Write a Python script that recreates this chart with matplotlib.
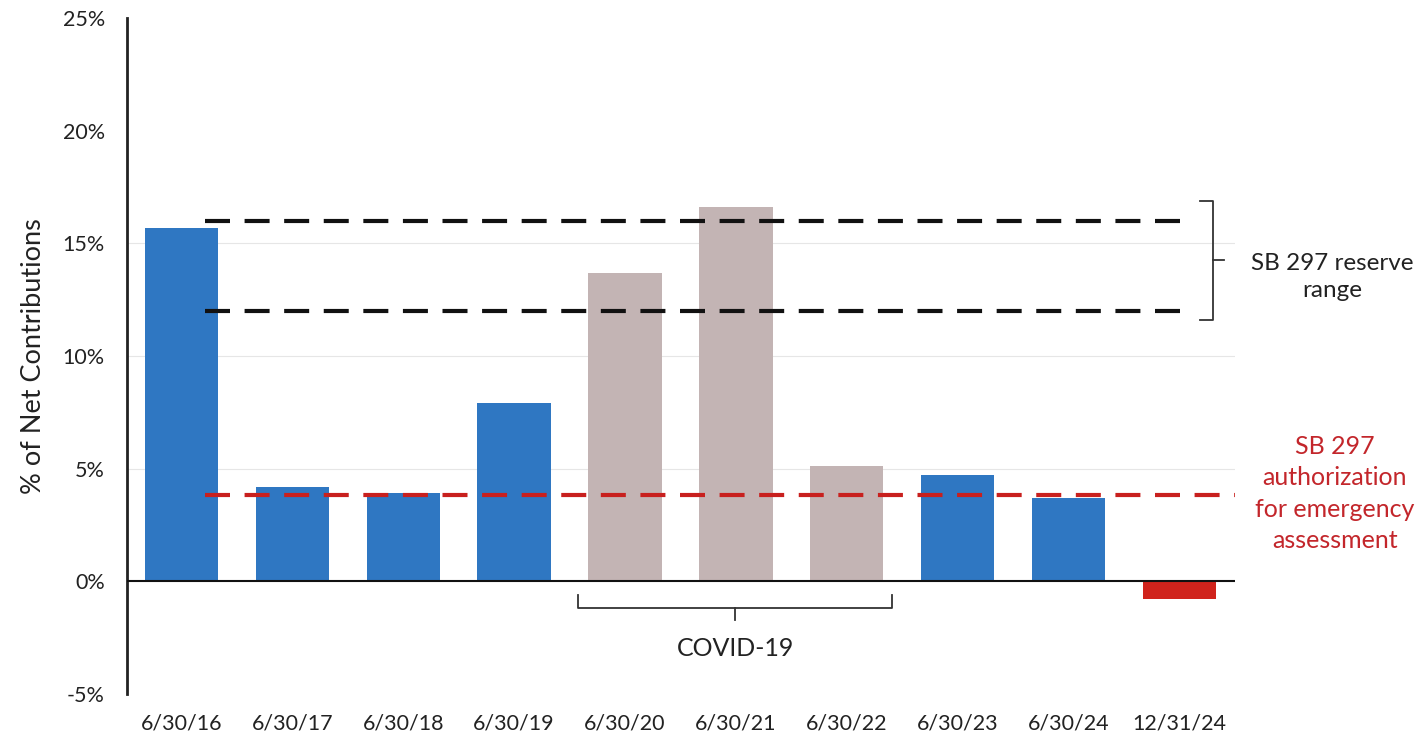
import matplotlib
matplotlib.use("Agg")
import matplotlib.pyplot as plt
from matplotlib.ticker import FuncFormatter

categories = ["6/30/16", "6/30/17", "6/30/18", "6/30/19", "6/30/20",
              "6/30/21", "6/30/22", "6/30/23", "6/30/24", "12/31/24"]
values = [15.7, 4.2, 3.9, 7.9, 13.7, 16.6, 5.1, 4.7, 3.7, -0.8]
bar_colors = ["#2F77C2"] * 4 + ["#C3B4B4"] * 3 + ["#2F77C2"] * 2 + ["#D0231C"]
reserve_low, reserve_high = 12.0, 16.0
emergency_level = 3.85
y_ticks = [-5, 0, 5, 10, 15, 20, 25]

plt.rcParams['font.family'] = ['Lato', 'DejaVu Sans']

fig = plt.figure(figsize=(14.21, 7.41), dpi=100)
ax = fig.add_axes([127/1421, 1-694/741, (1235-127)/1421, (694-18)/741])

x = list(range(len(categories)))
ax.bar(x, values, width=0.66, color=bar_colors, zorder=3)

ax.set_xlim(-0.49, 9.5)
ax.set_ylim(-5, 25)
ax.set_yticks(y_ticks)
ax.yaxis.set_major_formatter(FuncFormatter(lambda v, p: f"{int(v)}%"))
ax.set_xticks(x)
ax.set_xticklabels(categories)
ax.tick_params(axis='both', length=0, labelsize=15.5, colors="#222222")
ax.tick_params(axis='y', pad=16)
ax.tick_params(axis='x', pad=14)

for g in [5, 10, 15]:
    ax.axhline(g, color="#E6E6E6", lw=0.8, zorder=1)
ax.axhline(0, color="#111111", lw=1.5, zorder=4)

for s in ["top", "right", "bottom"]:
    ax.spines[s].set_visible(False)
ax.spines["left"].set_color("#222222")
ax.spines["left"].set_linewidth(2)

ax.set_ylabel("% of Net Contributions", fontsize=19.5, color="#222222", labelpad=12)

# reserve range lines
for lvl in [reserve_low, reserve_high]:
    ax.plot([0.21, 9.02], [lvl, lvl], color="#111111", lw=3,
            dashes=(6, 3.5), zorder=5)
ax.plot([0.21, 9.5], [emergency_level, emergency_level], color="#C8201E", lw=3,
        dashes=(6, 3.5), zorder=5)

# bracket for reserve range
bx = 9.30
ax.plot([bx - 0.12, bx, bx, bx - 0.12], [16.9, 16.9, 11.6, 11.6],
        color="#333333", lw=1.3, clip_on=False)
ax.plot([bx, bx + 0.1], [14.25, 14.25], color="#333333", lw=1.3, clip_on=False)
ax.text(10.38, 13.5, "SB 297 reserve\nrange", ha="center", va="center",
        fontsize=17.5, color="#222222", linespacing=1.35, clip_on=False)
ax.text(10.4, 3.9, "SB 297\nauthorization\nfor emergency\nassessment",
        ha="center", va="center", fontsize=18, color="#C3262B",
        linespacing=1.45, clip_on=False)

# COVID bracket
cl, cr = 3.58, 6.41
cm = (cl + cr) / 2
ax.plot([cl, cl, cr, cr], [-0.6, -1.2, -1.2, -0.6], color="#333333", lw=1.3)
ax.plot([cm, cm], [-1.2, -1.7], color="#333333", lw=1.3)
ax.text(cm, -3.0, "COVID-19", ha="center", va="center", fontsize=18,
        color="#222222")

fig.savefig("out.png", dpi=100)
